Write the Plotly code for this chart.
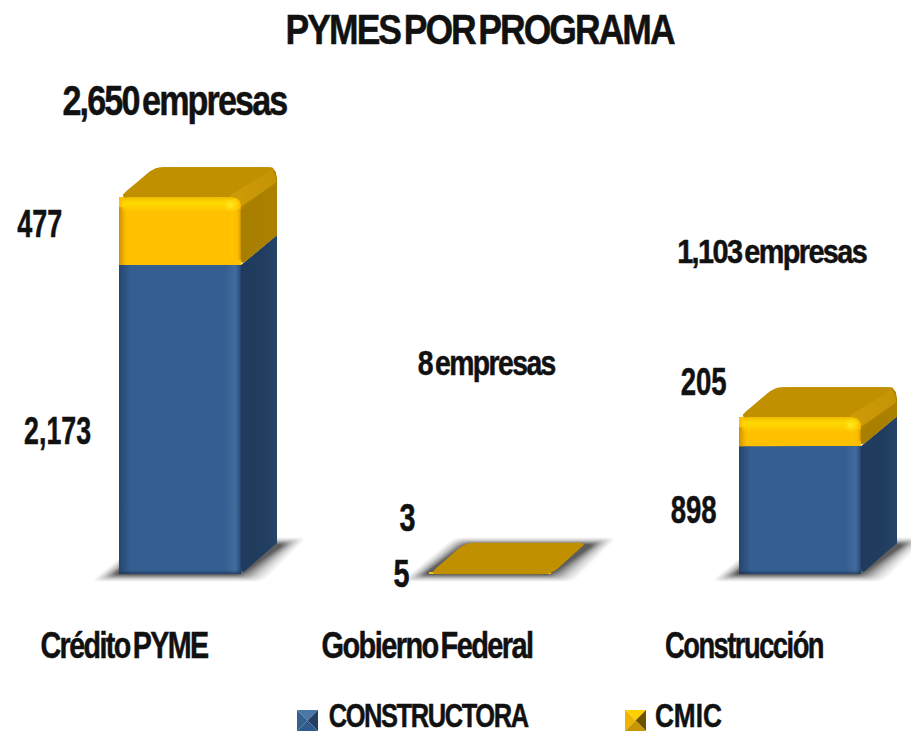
import numpy as np
import json
import plotly.graph_objects as go

# ---- data ----
categories = ["Crédito PYME", "Gobierno Federal", "Construcción"]
constructora = [2173, 5, 898]
cmic = [477, 3, 205]
totals = ["2,650 empresas", "8 empresas", "1,103 empresas"]
series_names = ["CONSTRUCTORA", "CMIC"]

# ---- scale (pixels per data unit) ----
W, H = 911, 734
PXX = 310.0
PXY = 0.1422
X0_PX, Y0_PX = 180.0, 574.0
xr = [-X0_PX / PXX, (W - X0_PX) / PXX]
yr = [-(H - Y0_PX) / PXY, Y0_PX / PXY]
BAR_PX, DX_PX, DY_PX = 122.0, 36.0, 30.0
bw = BAR_PX / PXX
ddx = DX_PX / PXX
ddy = DY_PX / PXY
FONT = "Liberation Sans"


def round_poly(pts, r):
    """Round the corners of a polygon given in data units, radius in pixels."""
    P = np.array([[p[0] * PXX, p[1] * PXY] for p in pts], float)
    rr = r if np.ndim(r) else [r] * len(P)
    out = []
    n = len(P)
    for i in range(n):
        a, b, c = P[i - 1], P[i], P[(i + 1) % n]
        u = a - b
        v = c - b
        lu, lv = np.linalg.norm(u), np.linalg.norm(v)
        q = min(rr[i], lu / 2, lv / 2)
        if q <= 0.01:
            out.append(b)
            continue
        s, e = b + u / lu * q, b + v / lv * q
        for t in np.linspace(0, 1, 7):
            out.append((1 - t) ** 2 * s + 2 * t * (1 - t) * b + t ** 2 * e)
    out.append(out[0])
    out = np.array(out)
    return out[:, 0] / PXX, out[:, 1] / PXY


def poly(fig, pts, color=None, r=0.0, grad=None):
    x, y = round_poly(pts, r)
    kw = dict(fillcolor=color) if grad is None else dict(fillgradient=grad)
    fig.add_trace(go.Scatter(x=x, y=y, mode="lines", fill="toself", line=dict(width=0),
                             showlegend=False, hoverinfo="skip", **kw))


def hgrad(stops):
    return dict(type="horizontal", colorscale=stops)


def vgrad(stops):
    return dict(type="vertical", colorscale=stops)


fig = go.Figure()
xs = list(range(len(categories)))

# front faces
fig.add_trace(go.Bar(x=xs, y=constructora, name=series_names[0], width=bw, showlegend=False,
                     marker=dict(color="#355f93", line=dict(width=0))))
fig.add_trace(go.Bar(x=xs, y=cmic, name=series_names[1], width=bw, showlegend=False,
                     marker=dict(color="#ffc000", line=dict(width=0))))

shapes = []
for i in xs:
    xl, xr_ = i - bw / 2, i + bw / 2
    a, b = constructora[i], cmic[i]
    top = a + b
    tall = top > 100
    # soft floor shadow, behind everything
    for k in range(22, -1, -2):
        ex = k / PXX
        ey = k * 0.3 / PXY
        op = 0.03 + 0.13 * (1 - k / 22) ** 2
        sx, sy = round_poly([(xl - 6 / PXX - ex, -ey - 1 / PXY), (xr_ + ex, -ey - 1 / PXY),
                             (xr_ + ddx + 8 / PXX + ex, ddy + ey), (xl + ddx - ex * 0.5, ddy + ey)], 8)
        path = "M" + "L".join(f"{u:.4f},{v:.2f}" for u, v in zip(sx, sy)) + "Z"
        shapes.append(dict(type="path", path=path, xref="x", yref="y", fillcolor=f"rgba(0,0,0,{op:.3f})",
                           line=dict(width=0), layer="below"))
    if tall:
        # side faces
        poly(fig, [(xr_, 0), (xr_ + ddx, ddy), (xr_ + ddx, a + ddy), (xr_, a)], r=[6, 2, 0, 0],
             grad=hgrad([[0, "#1f3a5c"], [0.6, "#203d60"], [1, "#264469"]]))
        # silhouette of the gold side and top, so no gap can show between them
        poly(fig, [(xr_, a), (xr_ + ddx, a + ddy), (xr_ + ddx, top + ddy), (xl + ddx, top + ddy), (xl, top), (xr_ - 10 / PXX, top - 12 / PXY)],
             r=[6, 0, 11, 9, 9, 0], grad=hgrad([[0, "#c09000"], [0.75, "#b08400"], [1, "#aa8000"]]))
        poly(fig, [(xr_, a), (xr_ + ddx, a + ddy), (xr_ + ddx, top + ddy - 12 / PXY), (xr_, top - 14 / PXY)],
             grad=hgrad([[0, "#a87e00"], [1, "#ac8100"]]), r=[6, 0, 3, 0])
    # top face
    base = top if tall else top - 1.5 / PXY
    poly(fig, [(xl, base), (xr_, base), (xr_ + ddx, top + ddy), (xl + ddx, top + ddy)], "#c09000",
         r=[9, 0 if tall else 9, 8, 9])
    if tall:
        # ridge between top and side
        poly(fig, [(xr_ - 2 / PXX, top - 11 / PXY), (xr_ + ddx, top + ddy - 15 / PXY),
                   (xr_ + ddx - 4 / PXX, top + ddy - 2 / PXY), (xr_ - 12 / PXX, top + 1 / PXY)], r=3,
             grad=hgrad([[0, "#cf9c08"], [1, "#c49406"]]))
        # bevel light on front faces
        ed = 12 / PXX
        lstops = [[0, "rgba(15,30,55,0.4)"], [1, "rgba(15,30,55,0)"]]
        rstops = [[0, "rgba(255,255,255,0)"], [0.6, "rgba(255,255,255,0.07)"], [0.85, "rgba(20,40,70,0.12)"],
                  [1, "rgba(20,40,70,0.5)"]]
        poly(fig, [(xl, 0), (xl + ed, 0), (xl + ed, a), (xl, a)], grad=hgrad(lstops))
        poly(fig, [(xr_ - ed * 1.3, 0), (xr_, 0), (xr_, a), (xr_ - ed * 1.3, a)], grad=hgrad(rstops))
        poly(fig, [(xl, -0.01), (xr_, -0.01), (xr_, 4 / PXY), (xl, 4 / PXY)],
             grad=vgrad([[0, "rgba(20,40,70,0.55)"], [1, "rgba(20,40,70,0)"]]))
        # gold front, rounded at the top
        poly(fig, [(xl, a), (xr_, a), (xr_, top), (xl, top)], "#ffc000", r=[0, 5, 10, 10])
        # gold bevels
        poly(fig, [(xl, a), (xl + ed * 0.6, a), (xl + ed * 0.6, top - 10 / PXY), (xl, top - 10 / PXY)],
             grad=hgrad([[0, "rgba(190,130,0,0.75)"], [1, "rgba(190,130,0,0)"]]))
        poly(fig, [(xl + 3 / PXX, top - 15 / PXY), (xr_ - 3 / PXX, top - 15 / PXY), (xr_ - 3 / PXX, top), (xl + 3 / PXX, top)],
             r=[0, 0, 8, 8], grad=vgrad([[0, "rgba(255,218,0,0)"], [0.6, "rgba(255,218,0,0.95)"], [1, "rgba(240,190,0,0.9)"]]))
        poly(fig, [(xr_ - 10 / PXX, a + 5 / PXY), (xr_, a + 5 / PXY), (xr_, top - 12 / PXY), (xr_ - 10 / PXX, top - 12 / PXY)],
             grad=hgrad([[0, "rgba(255,210,0,0.3)"], [0.6, "rgba(240,180,0,0.2)"], [1, "rgba(170,120,0,0.6)"]]))
        # hot spot on the corner
        poly(fig, [(xr_ - 16 / PXX, top - 14 / PXY), (xr_ - 5 / PXX, top - 14 / PXY), (xr_ - 5 / PXX, top - 2 / PXY), (xr_ - 16 / PXX, top - 2 / PXY)],
             "rgba(255,232,30,0.35)", r=5)
        poly(fig, [(xr_ - 13 / PXX, top - 11 / PXY), (xr_ - 8 / PXX, top - 11 / PXY), (xr_ - 8 / PXX, top - 5 / PXY), (xr_ - 13 / PXX, top - 5 / PXY)],
             "rgba(255,235,40,0.6)", r=2.5)


def px(xp):
    return xp / W


def py(yp):
    return 1 - yp / H


text_widths = []


def label(text, xc, yc, size, width):
    text_widths.append(width)
    return dict(text=text, x=px(xc), y=py(yc), xref="paper", yref="paper", xanchor="center",
                yanchor="middle", showarrow=False,
                font=dict(family=FONT, size=size, color="#111111", weight="bold"))


annotations = [
    label("PYMES POR PROGRAMA", 479, 29, 43, 388),
    label(totals[0], 174, 101, 42, 224),
    label(totals[1], 486, 362, 35, 137),
    label(totals[2], 771, 251, 34, 189),
    label(f"{cmic[0]}", 39, 224, 38, 45),
    label(f"{constructora[0]:,}", 57, 431, 38, 67),
    label(f"{cmic[1]}", 407, 518, 38, 16),
    label(f"{constructora[1]}", 401, 574, 38, 16),
    label(f"{cmic[2]}", 703, 382, 38, 46),
    label(f"{constructora[2]}", 693, 510, 38, 46),
    label(categories[0], 124, 645, 36, 167),
    label(categories[1], 427, 645, 36, 211),
    label(categories[2], 744, 645, 36, 158),
    label(series_names[0], 428, 714.5, 34, 199),
    label(series_names[1], 688, 714.5, 34, 67),
]


# legend swatches
def swatch(x0, y0, s, top, left, right, bottom):
    m = s * 0.5
    x1, y1 = x0 + s, y0 + s
    cx, cy = x0 + m, y0 + m
    tris = [
        ([(x0, y0), (x1, y0), (cx, cy)], top),
        ([(x0, y0), (x0, y1), (cx, cy)], left),
        ([(x1, y0), (x1, y1), (cx, cy)], right),
        ([(x0, y1), (x1, y1), (cx, cy)], bottom),
    ]
    res = []
    for pts, col in tris:
        path = "M" + "L".join(f"{px(a):.5f},{py(b):.5f}" for a, b in pts) + "Z"
        res.append(dict(type="path", path=path, xref="paper", yref="paper", fillcolor=col, line=dict(width=0), layer="above"))
    return res


shapes += swatch(297, 710, 21, "#4a76a8", "#35608f", "#233f62", "#2f5a8c")
shapes += swatch(625, 710, 21, "#ffd000", "#f0b400", "#6e5200", "#c89600")

fig.update_layout(
    width=W, height=H, margin=dict(l=0, r=0, t=0, b=0), autosize=False,
    barmode="stack", bargap=0, paper_bgcolor="white", plot_bgcolor="white",
    xaxis=dict(range=xr, visible=False, fixedrange=True),
    yaxis=dict(range=yr, visible=False, fixedrange=True),
    showlegend=False, annotations=annotations, shapes=shapes,
)

post = """
document.body.style.margin = '0';
var widths = %s;
document.querySelectorAll('.annotation-text').forEach(function (t, i) {
  if (t.textContent.length > 5) {
    t.style.letterSpacing = '-0.055em';
    t.style.wordSpacing = '-0.12em';
  }
  t.style.stroke = '#111111';
  t.style.strokeWidth = '0.5px';
  t.setAttribute('textLength', widths[i]);
  t.setAttribute('lengthAdjust', 'spacingAndGlyphs');
});
""" % json.dumps(text_widths)
fig.write_html("out.html", post_script=post, config=dict(displayModeBar=False))
